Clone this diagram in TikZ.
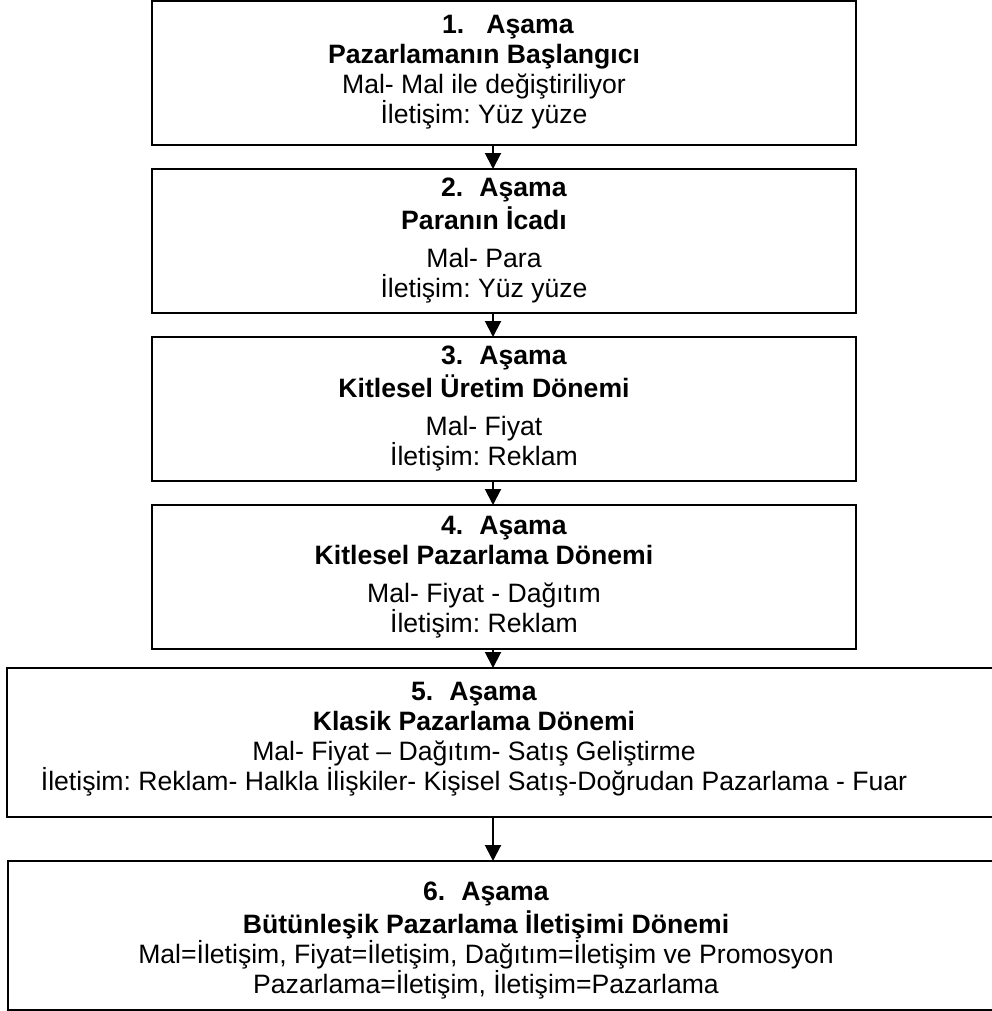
\documentclass[tikz,border=0pt]{standalone}
\usepackage{fontspec}
\setmainfont{Liberation Sans}
\frenchspacing
\usetikzlibrary{arrows.meta}
\tikzset{every picture/.style={x=0.5pt, y=-0.5pt}}
\tikzset{
  stage/.style={draw, line width=1.1pt, inner sep=0pt, outer sep=0pt,
                minimum width=#1, minimum height=72pt},
  stage/.default={352pt}, % width of the four upper boxes
  words/.style={align=center, inner sep=0pt,
                font=\fontsize{13.3pt}{15pt}\selectfont},
  arr/.style={line width=1pt, -{Triangle[length=8pt, width=8pt]}},
}
\def\ax{493}

\begin{document}
\begin{tikzpicture}
  \useasboundingbox (0,0) rectangle (991,1011);
  \coordinate (axis) at (\ax,0);
  % frames of the six stages
  \node[stage] (b1) at (504,73) {};
  \node[stage] (b2) at (504,241) {};
  \node[stage] (b3) at (504,409) {};
  \node[stage] (b4) at (504,577) {};
  \node[stage=496.5pt, minimum height=74.5pt] (b5) at (503.5,742.5) {};
  \node[stage=496pt, minimum height=74.5pt] (b6) at (504,935.5) {};
  % texts
  \node[words] (t1) at (484,73) {\strut\textbf{\hspace*{24pt}1.\hspace{11pt}Aşama}\\
    \textbf{Pazarlamanın Başlangıcı}\\ Mal- Mal ile değiştiriliyor\\ İletişim: Yüz yüze\strut};
  \node[words] (t2) at (484,241) {\strut\textbf{\hspace*{20pt}2.\hspace{8pt}Aşama}\\
    \textbf{Paranın İcadı}\\[4pt] Mal- Para\\ İletişim: Yüz yüze\strut};
  \node[words] (t3) at (484,409) {\strut\textbf{\hspace*{20pt}3.\hspace{8pt}Aşama}\\
    \textbf{Kitlesel Üretim Dönemi}\\[4pt] Mal- Fiyat\\ İletişim: Reklam\strut};
  \node[words] (t4) at (484,577) {\strut\textbf{\hspace*{20pt}4.\hspace{8pt}Aşama}\\
    \textbf{Kitlesel Pazarlama Dönemi}\\[4pt] Mal- Fiyat - Dağıtım\\ İletişim: Reklam\strut};
  \node[words] (t5) at (474,739) {\strut\textbf{5.\hspace{8pt}Aşama}\\
    \textbf{Klasik Pazarlama Dönemi}\\ Mal- Fiyat – Dağıtım- Satış Geliştirme\\
    İletişim: Reklam- Halkla İlişkiler- Kişisel Satış-Doğrudan Pazarlama - Fuar\strut};
  \node[words] (t6) at (486,941) {\strut\textbf{6.\hspace{8pt}Aşama}\\
    \textbf{Bütünleşik Pazarlama İletişimi Dönemi}\\
    Mal=İletişim, Fiyat=İletişim, Dağıtım=İletişim ve Promosyon\\
    Pazarlama=İletişim, İletişim=Pazarlama\strut};
  % arrows between stages
  \draw[arr] (b1.south -| axis) -- (b2.north -| axis);
  \draw[arr] (b2.south -| axis) -- (b3.north -| axis);
  \draw[arr] (b3.south -| axis) -- (b4.north -| axis);
  \draw[arr] (b4.south -| axis) -- (b5.north -| axis);
  \draw[arr] (b5.south -| axis) -- (b6.north -| axis);
\end{tikzpicture}
\end{document}
